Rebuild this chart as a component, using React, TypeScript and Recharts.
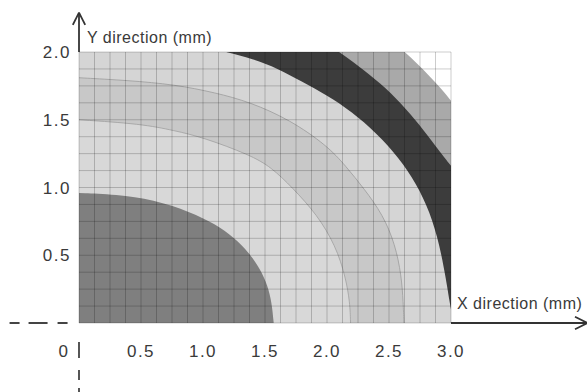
import React from "react";
import {
  ComposedChart,
  Area,
  XAxis,
  YAxis,
  CartesianGrid,
  ReferenceLine,
  Customized,
} from "recharts";

// grid ticks (every 0.125 mm) and the labelled ones
const GRID_X = [
  0, 0.125, 0.25, 0.375, 0.5, 0.625, 0.75, 0.875, 1, 1.125, 1.25, 1.375, 1.5,
  1.625, 1.75, 1.875, 2, 2.125, 2.25, 2.375, 2.5, 2.625, 2.75, 2.875, 3,
];
const GRID_Y = [
  0, 0.125, 0.25, 0.375, 0.5, 0.625, 0.75, 0.875, 1, 1.125, 1.25, 1.375, 1.5,
  1.625, 1.75, 1.875, 2,
];
const X_LABELS = [0, 0.5, 1, 1.5, 2, 2.5, 3];
const Y_LABELS = [0.5, 1, 1.5, 2];

// band boundaries, from the outside in
const outerEdge = [
  { x: 0, y: 2.8 }, { x: 1.5, y: 2.55 }, { x: 2.2, y: 2.28 }, { x: 2.45, y: 2.13 },
  { x: 2.63, y: 2.0 }, { x: 2.72, y: 1.92 }, { x: 2.83, y: 1.82 }, { x: 2.92, y: 1.73 },
  { x: 3.0, y: 1.64 },
];
const darkOuter = [
  { x: 0, y: 2.5 }, { x: 1.0, y: 2.4 }, { x: 1.6, y: 2.24 }, { x: 1.9, y: 2.12 },
  { x: 2.1, y: 2.0 }, { x: 2.25, y: 1.9 }, { x: 2.43, y: 1.77 }, { x: 2.6, y: 1.62 },
  { x: 2.75, y: 1.46 }, { x: 2.88, y: 1.3 }, { x: 3.0, y: 1.16 },
];
const darkInner = [
  { x: 0, y: 2.15 }, { x: 0.6, y: 2.1 }, { x: 1.0, y: 2.04 }, { x: 1.19, y: 2.0 },
  { x: 1.4, y: 1.95 }, { x: 1.6, y: 1.88 }, { x: 1.8, y: 1.78 }, { x: 2.0, y: 1.68 },
  { x: 2.2, y: 1.56 }, { x: 2.4, y: 1.4 }, { x: 2.58, y: 1.22 }, { x: 2.72, y: 1.03 },
  { x: 2.83, y: 0.82 }, { x: 2.91, y: 0.57 }, { x: 2.96, y: 0.32 }, { x: 2.99, y: 0.15 },
  { x: 3.0, y: 0.1 },
];
const midOuter = [
  { x: 0, y: 1.81 }, { x: 0.4, y: 1.79 }, { x: 0.77, y: 1.76 }, { x: 1.1, y: 1.7 },
  { x: 1.38, y: 1.63 }, { x: 1.7, y: 1.5 }, { x: 2.0, y: 1.31 }, { x: 2.15, y: 1.16 },
  { x: 2.3, y: 0.99 }, { x: 2.45, y: 0.8 }, { x: 2.55, y: 0.58 }, { x: 2.6, y: 0.35 },
  { x: 2.615, y: 0.15 }, { x: 2.62, y: 0 },
];
const midInner = [
  { x: 0, y: 1.5 }, { x: 0.5, y: 1.47 }, { x: 0.77, y: 1.42 }, { x: 1.0, y: 1.37 },
  { x: 1.38, y: 1.24 }, { x: 1.55, y: 1.15 }, { x: 1.72, y: 1.0 }, { x: 1.92, y: 0.8 },
  { x: 2.07, y: 0.57 }, { x: 2.15, y: 0.34 }, { x: 2.185, y: 0.15 }, { x: 2.19, y: 0 },
];
const core = [
  { x: 0, y: 0.96 }, { x: 0.3, y: 0.95 }, { x: 0.6, y: 0.91 }, { x: 0.9, y: 0.82 },
  { x: 1.1, y: 0.73 }, { x: 1.25, y: 0.63 }, { x: 1.37, y: 0.52 }, { x: 1.46, y: 0.4 },
  { x: 1.52, y: 0.28 }, { x: 1.555, y: 0.15 }, { x: 1.57, y: 0 },
];

const FONT = '"Liberation Sans", Arial, sans-serif';
const INK = "#3a3a3a";

const XTick = (props: any) => {
  const { x, y, payload } = props;
  const v = payload.value;
  if (!X_LABELS.includes(v)) return <g />;
  if (v === 0) {
    return (
      <text x={x - 11} y={y + 34} textAnchor="end" fontSize={17} fill={INK} fontFamily={FONT}>
        0
      </text>
    );
  }
  return (
    <text x={x} y={y + 34} textAnchor="middle" fontSize={17} letterSpacing={1.5} fill={INK} fontFamily={FONT}>
      {v.toFixed(1)}
    </text>
  );
};

const YTick = (props: any) => {
  const { x, y, payload } = props;
  const v = payload.value;
  if (!Y_LABELS.includes(v)) return <g />;
  return (
    <text x={x} y={y} dy="0.36em" textAnchor="end" fontSize={17} letterSpacing={1.5} fill={INK} fontFamily={FONT}>
      {v.toFixed(1)}
    </text>
  );
};

const AxisTitles = () => (
  <g fontFamily={FONT} fill={INK} fontSize={16} letterSpacing={0.5}>
    <text x={87} y={43}>Y direction (mm)</text>
    <text x={457} y={309}>X direction (mm)</text>
  </g>
);

const bandProps = {
  dataKey: "y",
  type: "basis" as const,
  isAnimationActive: false,
  fillOpacity: 1,
  dot: false,
  activeDot: false,
};

export default function App() {
  return (
    <div style={{ position: "absolute", left: 0, top: 0, background: "#fff" }}>
      <ComposedChart
        width={587}
        height={392}
        margin={{ top: 52, right: 136, bottom: 0, left: 0 }}
      >
        <XAxis
          dataKey="x"
          type="number"
          domain={[0, 3]}
          allowDataOverflow
          ticks={GRID_X}
          interval={0}
          height={69}
          axisLine={false}
          tickLine={false}
          tickSize={0}
          tickMargin={0}
          tick={<XTick />}
        />
        <YAxis
          type="number"
          domain={[0, 2]}
          allowDataOverflow
          ticks={GRID_Y}
          interval={0}
          width={79}
          axisLine={false}
          tickLine={false}
          tickSize={0}
          tickMargin={8}
          tick={<YTick />}
        />
        <Area {...bandProps} data={outerEdge} fill="#a9a9a9" stroke="none" />
        <Area {...bandProps} data={darkOuter} fill="#3c3c3c" stroke="none" />
        <Area {...bandProps} data={darkInner} fill="#d5d5d5" stroke="none" />
        <Area {...bandProps} data={midOuter} fill="#c8c8c8" stroke="#9c9c9c" strokeWidth={0.8} />
        <Area {...bandProps} data={midInner} fill="#d8d8d8" stroke="#a0a0a0" strokeWidth={0.8} />
        <Area {...bandProps} data={core} fill="#7f7f7f" stroke="none" />
        <CartesianGrid stroke="#000" strokeOpacity={0.2} strokeWidth={1} zIndex={600} />

        {/* axis arrows */}
        <ReferenceLine segment={[{ x: 0, y: 2 }, { x: 0, y: 2.29 }]} stroke="#333" strokeWidth={1.8} ifOverflow="visible" />
        <ReferenceLine segment={[{ x: -0.05, y: 2.2 }, { x: 0, y: 2.29 }]} stroke="#333" strokeWidth={1.8} ifOverflow="visible" />
        <ReferenceLine segment={[{ x: 0.05, y: 2.2 }, { x: 0, y: 2.29 }]} stroke="#333" strokeWidth={1.8} ifOverflow="visible" />
        <ReferenceLine segment={[{ x: 3, y: 0 }, { x: 4.1, y: 0 }]} stroke="#333" strokeWidth={1.8} ifOverflow="visible" />
        <ReferenceLine segment={[{ x: 4.0, y: 0.046 }, { x: 4.1, y: 0 }]} stroke="#333" strokeWidth={1.8} ifOverflow="visible" />
        <ReferenceLine segment={[{ x: 4.0, y: -0.046 }, { x: 4.1, y: 0 }]} stroke="#333" strokeWidth={1.8} ifOverflow="visible" />

        {/* dashed extensions past the origin */}
        <ReferenceLine segment={[{ x: -0.56, y: 0 }, { x: -0.09, y: 0 }]} stroke="#444" strokeWidth={1.8} strokeDasharray="10 9 19 10 10 200" ifOverflow="visible" />
        <ReferenceLine segment={[{ x: 0, y: -0.14 }, { x: 0, y: -0.55 }]} stroke="#444" strokeWidth={1.8} strokeDasharray="16 12 10 8 10 200" ifOverflow="visible" />

        <Customized component={<AxisTitles />} />
      </ComposedChart>
    </div>
  );
}
